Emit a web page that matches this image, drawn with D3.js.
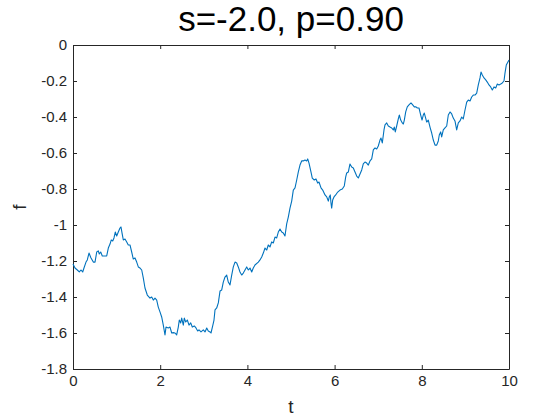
<!DOCTYPE html>
<html>
<head>
<meta charset="utf-8">
<script src="https://cdn.jsdelivr.net/npm/d3@7"></script>
<style>
  html, body { margin: 0; padding: 0; background: #fff; }
  svg { display: block; font-family: "Liberation Sans", Arial, Helvetica, sans-serif; }
</style>
</head>
<body>
<svg id="chart" width="560" height="420"></svg>
<script>
const titleText = "s=-2.0, p=0.90";
const xLabel = "t";
const yLabel = "f";
const xTicks = [0, 2, 4, 6, 8, 10];
const xTickLabels = ["0", "2", "4", "6", "8", "10"];
const yTicks = [0, -0.2, -0.4, -0.6, -0.8, -1, -1.2, -1.4, -1.6, -1.8];
const yTickLabels = ["0", "-0.2", "-0.4", "-0.6", "-0.8", "-1", "-1.2", "-1.4", "-1.6", "-1.8"];

const tValues = [
0.000,0.046,0.099,0.144,0.183,0.222,0.252,0.298,0.328,0.367,0.413,0.466,0.505,0.544,0.580,0.603,0.635,0.672,0.773,0.810,
0.849,0.878,0.911,0.940,0.970,1.002,1.039,1.078,1.101,1.124,1.154,1.193,1.232,1.268,1.307,1.346,1.383,1.422,1.461,1.498,
1.537,1.576,1.612,1.651,1.704,1.766,1.805,1.842,1.881,1.920,1.956,1.995,2.034,2.071,2.110,2.133,2.186,2.225,2.264,2.300,
2.339,2.378,2.415,2.438,2.470,2.493,2.530,2.553,2.585,2.622,2.661,2.700,2.736,2.782,2.821,2.860,2.890,2.936,2.989,3.028,
3.067,3.103,3.142,3.165,3.204,3.234,3.257,3.296,3.333,3.372,3.411,3.447,3.486,3.525,3.562,3.601,3.640,3.677,3.716,3.755,
3.791,3.830,3.869,3.906,3.945,3.984,4.021,4.060,4.099,4.135,4.174,4.250,4.289,4.328,4.365,4.404,4.443,4.479,4.518,4.557,
4.594,4.633,4.672,4.709,4.748,4.787,4.823,4.862,4.901,4.938,4.977,5.016,5.053,5.092,5.131,5.167,5.206,5.245,5.282,5.321,
5.360,5.383,5.413,5.459,5.488,5.534,5.573,5.612,5.642,5.688,5.727,5.780,5.819,5.856,5.878,5.901,5.917,5.933,5.956,5.986,
6.025,6.071,6.124,6.177,6.222,6.255,6.278,6.314,6.353,6.392,6.429,6.468,6.507,6.544,6.583,6.622,6.658,6.697,6.736,6.773,
6.812,6.851,6.888,6.927,6.966,7.002,7.041,7.064,7.094,7.133,7.156,7.195,7.232,7.271,7.310,7.346,7.369,7.392,7.424,7.461,
7.484,7.516,7.553,7.576,7.599,7.631,7.667,7.706,7.752,7.791,7.828,7.867,7.897,7.936,7.975,8.005,8.034,8.057,8.089,8.112,
8.149,8.188,8.227,8.264,8.303,8.342,8.378,8.401,8.433,8.456,8.493,8.532,8.571,8.608,8.647,8.686,8.722,8.761,8.800,8.837,
8.876,8.915,8.951,8.991,9.030,9.066,9.106,9.144,9.181,9.220,9.259,9.296,9.335,9.358,9.388,9.427,9.466,9.502,9.541,9.580,
9.617,9.656,9.695,9.732,9.771,9.810,9.846,9.885,9.908,9.938,10.000
];

const fValues = [
-1.217,-1.239,-1.250,-1.261,-1.250,-1.261,-1.239,-1.206,-1.194,-1.156,-1.183,-1.206,-1.206,-1.150,-1.144,-1.161,-1.150,-1.172,-1.172,-1.128,
-1.106,-1.083,-1.089,-1.072,-1.039,-1.061,-1.039,-1.017,-1.011,-1.044,-1.083,-1.078,-1.094,-1.111,-1.111,-1.150,-1.189,-1.183,-1.206,-1.233,
-1.239,-1.250,-1.294,-1.350,-1.389,-1.406,-1.400,-1.417,-1.406,-1.417,-1.456,-1.483,-1.511,-1.556,-1.611,-1.567,-1.572,-1.567,-1.600,-1.598,
-1.600,-1.611,-1.567,-1.528,-1.544,-1.517,-1.556,-1.517,-1.539,-1.528,-1.556,-1.544,-1.567,-1.561,-1.572,-1.589,-1.583,-1.594,-1.583,-1.594,
-1.572,-1.589,-1.594,-1.600,-1.561,-1.528,-1.472,-1.461,-1.433,-1.367,-1.361,-1.317,-1.289,-1.278,-1.317,-1.333,-1.278,-1.233,-1.206,-1.211,
-1.233,-1.261,-1.278,-1.267,-1.250,-1.233,-1.250,-1.239,-1.261,-1.239,-1.222,-1.206,-1.194,-1.178,-1.156,-1.128,-1.139,-1.111,-1.122,-1.094,
-1.100,-1.067,-1.072,-1.039,-1.022,-1.039,-1.044,-1.061,-0.994,-0.956,-0.906,-0.867,-0.806,-0.794,-0.750,-0.706,-0.667,-0.644,-0.644,-0.639,
-0.644,-0.633,-0.656,-0.706,-0.739,-0.750,-0.744,-0.767,-0.761,-0.794,-0.806,-0.833,-0.844,-0.867,-0.844,-0.833,-0.878,-0.906,-0.861,-0.844,
-0.833,-0.817,-0.806,-0.800,-0.783,-0.733,-0.711,-0.706,-0.661,-0.678,-0.683,-0.706,-0.728,-0.739,-0.717,-0.694,-0.661,-0.650,-0.656,-0.667,
-0.644,-0.633,-0.583,-0.572,-0.578,-0.561,-0.528,-0.517,-0.544,-0.472,-0.444,-0.433,-0.450,-0.456,-0.461,-0.472,-0.456,-0.483,-0.450,-0.411,
-0.389,-0.417,-0.433,-0.439,-0.417,-0.372,-0.344,-0.333,-0.322,-0.333,-0.344,-0.344,-0.350,-0.350,-0.389,-0.417,-0.389,-0.378,-0.406,-0.428,
-0.417,-0.456,-0.489,-0.528,-0.556,-0.556,-0.533,-0.500,-0.483,-0.511,-0.472,-0.461,-0.450,-0.389,-0.372,-0.383,-0.406,-0.422,-0.472,-0.433,
-0.422,-0.400,-0.411,-0.361,-0.317,-0.306,-0.311,-0.289,-0.278,-0.278,-0.267,-0.222,-0.183,-0.150,-0.167,-0.183,-0.194,-0.206,-0.222,-0.233,
-0.250,-0.233,-0.239,-0.217,-0.222,-0.217,-0.211,-0.200,-0.156,-0.111,-0.083
];

const data = tValues.map((t, i) => ({ t: t, f: fValues[i] }));

const svg = d3.select("#chart");
const margin = { left: 73, right: 51, top: 45, bottom: 51 };
const W = 560, H = 420;
const axisColor = "#262626";

const x = d3.scaleLinear().domain([0, 10]).range([margin.left, W - margin.right]);
const y = d3.scaleLinear().domain([-1.8, 0]).range([H - margin.bottom, margin.top]);

function styleAxis(g) {
  g.selectAll("path").attr("stroke", axisColor).attr("stroke-width", 1);
  g.selectAll("line").attr("stroke", axisColor).attr("stroke-width", 1);
  g.selectAll("text").attr("fill", axisColor).attr("font-size", 15)
    .attr("font-family", '"Liberation Sans", Arial, Helvetica, sans-serif');
}

// bottom axis
svg.append("g")
  .attr("transform", `translate(0,${y(-1.8)})`)
  .call(d3.axisBottom(x).tickValues(xTicks).tickFormat((d, i) => xTickLabels[i]).tickSizeInner(-4).tickSizeOuter(0).tickPadding(6))
  .call(styleAxis);
// top axis
svg.append("g")
  .attr("transform", `translate(0,${y(0)})`)
  .call(d3.axisTop(x).tickValues(xTicks).tickFormat("").tickSizeInner(-4).tickSizeOuter(0))
  .call(styleAxis);
// left axis
svg.append("g")
  .attr("transform", `translate(${x(0)},0)`)
  .call(d3.axisLeft(y).tickValues(yTicks).tickFormat((d, i) => yTickLabels[i]).tickSizeInner(-4).tickSizeOuter(0).tickPadding(6))
  .call(styleAxis);
// right axis
svg.append("g")
  .attr("transform", `translate(${x(10)},0)`)
  .call(d3.axisRight(y).tickValues(yTicks).tickFormat("").tickSizeInner(-4).tickSizeOuter(0))
  .call(styleAxis);

// line
const line = d3.line().x(d => x(d.t)).y(d => y(d.f));
svg.append("path")
  .datum(data)
  .attr("fill", "none")
  .attr("stroke", "#0072BD")
  .attr("stroke-width", 1.1)
  .attr("stroke-linejoin", "round")
  .attr("d", line);

// title
svg.append("text")
  .attr("x", (x(0) + x(10)) / 2)
  .attr("y", 31)
  .attr("text-anchor", "middle")
  .attr("font-size", 35)
  .attr("fill", "#000")
  .text(titleText);

// axis labels
svg.append("text")
  .attr("x", (x(0) + x(10)) / 2)
  .attr("y", 413)
  .attr("text-anchor", "middle")
  .attr("font-size", 19)
  .attr("fill", axisColor)
  .text(xLabel);

svg.append("text")
  .attr("transform", `translate(26,${(y(0) + y(-1.8)) / 2}) rotate(-90)`)
  .attr("text-anchor", "middle")
  .attr("font-size", 19)
  .attr("fill", axisColor)
  .text(yLabel);
</script>
</body>
</html>
